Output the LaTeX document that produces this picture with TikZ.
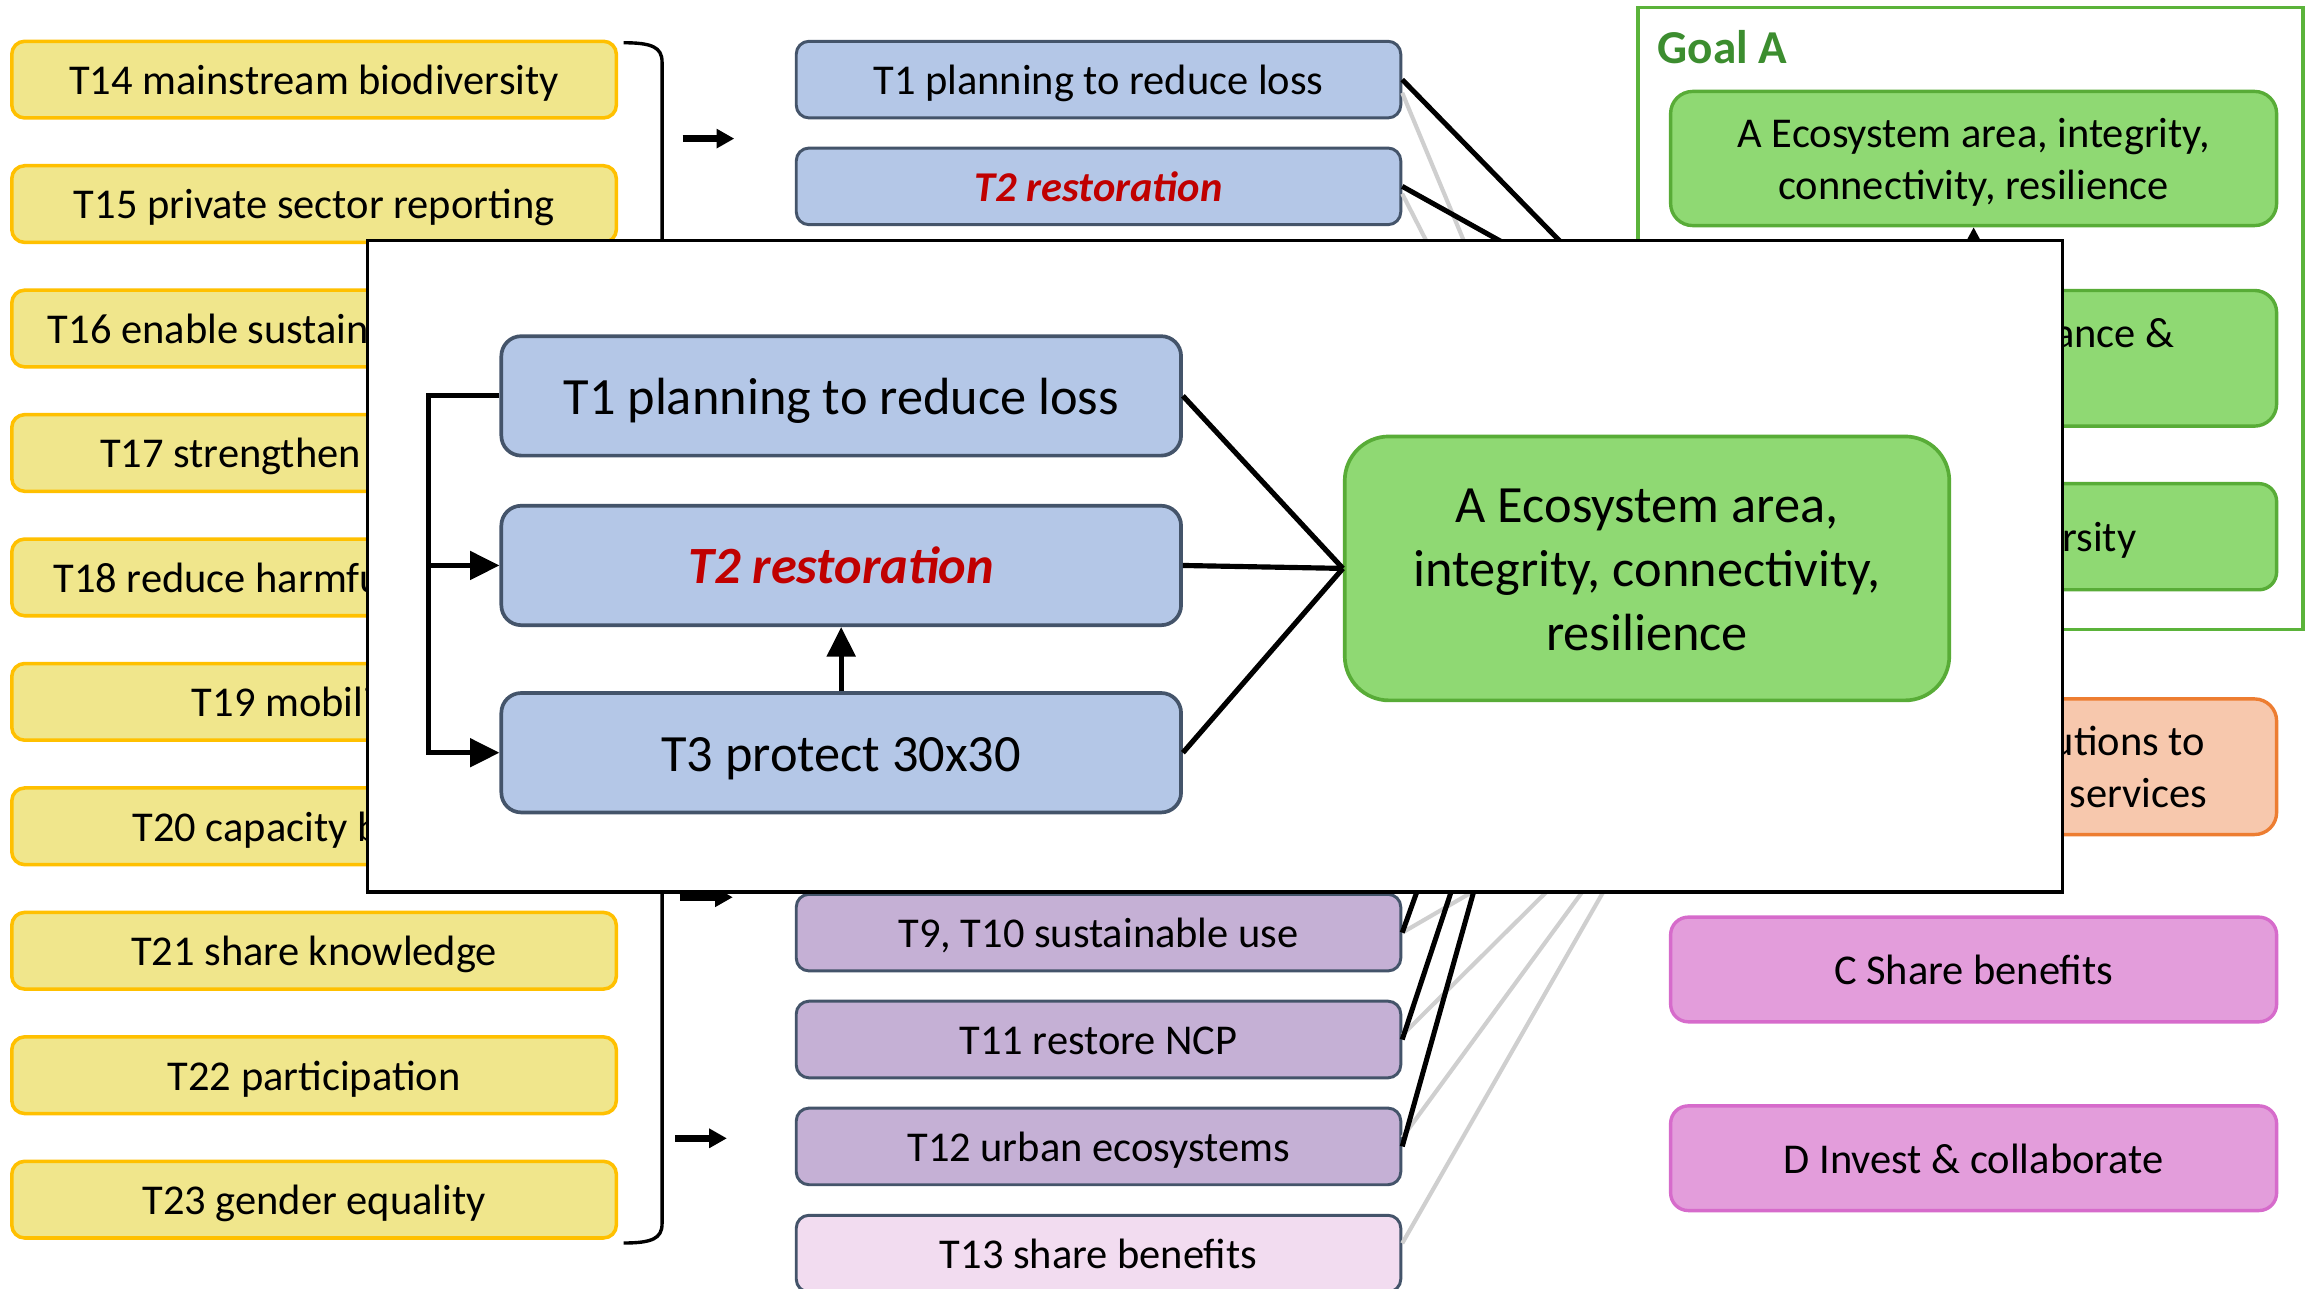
\documentclass[tikz,border=0pt]{standalone}
\usepackage{fontspec}
\setmainfont{Carlito}
\usetikzlibrary{arrows.meta,calc}
\definecolor{yfill}{HTML}{F0E68C}
\definecolor{yline}{HTML}{FFC000}
\definecolor{bfill}{HTML}{B4C7E7}
\definecolor{bline}{HTML}{44546A}
\definecolor{pfill}{HTML}{C5B0D5}
\definecolor{lpfill}{HTML}{F2DCF0}
\definecolor{gfill}{HTML}{8FD973}
\definecolor{gline}{HTML}{58AC37}
\definecolor{gframe}{HTML}{5BB33A}
\definecolor{gtext}{HTML}{3C8D2F}
\definecolor{ofill}{HTML}{F7C8AD}
\definecolor{oline}{HTML}{ED7D31}
\definecolor{mfill}{HTML}{E39DDB}
\definecolor{mline}{HTML}{D66BCB}
\definecolor{tred}{HTML}{C00000}
\definecolor{lgrey}{HTML}{CFCFCF}
\begin{document}
\begin{tikzpicture}[x=1pt,y=-1pt,
  smalltext/.style={font=\fontsize{28.8pt}{35.1pt}\selectfont, text height=27.4pt, text depth=7.2pt, inner sep=0pt},
  bigtext/.style={font=\fontsize{35.5pt}{43.3pt}\selectfont, text height=33.7pt, text depth=8.9pt, inner sep=0pt},
  tbox/.style={rectangle, inner sep=0pt, minimum width=410pt, minimum height=52pt, rounded corners=8.7pt, smalltext},
  yellowbox/.style={tbox, fill=yfill, draw=yline, line width=2.4pt},
  bluebox/.style={tbox, fill=bfill, draw=bline, line width=2pt},
  purplebox/.style={tbox, fill=pfill, draw=bline, line width=2pt},
  lpinkbox/.style={tbox, fill=lpfill, draw=bline, line width=2pt},
  goalbox/.style={tbox, minimum width=411pt, fill=gfill, draw=gline, line width=2.3pt},
  orangebox/.style={tbox, minimum width=411pt, fill=ofill, draw=oline, line width=2.3pt},
  magbox/.style={tbox, minimum width=411pt, fill=mfill, draw=mline, line width=2.3pt},
  bigblue/.style={rectangle, inner sep=0pt, minimum width=461pt, minimum height=81pt, rounded corners=13.5pt, fill=bfill, draw=bline, line width=2.5pt, bigtext},
  blackline/.style={line width=3.4pt, black},
  greyline/.style={line width=2.8pt, lgrey},
  fatarrow/.style={line width=4.5pt, -{Triangle[length=12pt,width=12.5pt]}},
  inline/.style={line width=3.5pt, black},
  inarrow/.style={inline, -{Triangle[length=20pt,width=19pt]}}
]
\useasboundingbox (0,0) rectangle (1568,874);
\path[fill=white] (0,0) rectangle (1568,874);

% ---------- left column ----------
\node[yellowbox] (t14) at (213,54) {T14 mainstream biodiversity};
\node[yellowbox] (t15) at (213,138.4) {T15 private sector reporting};
\node[yellowbox] (t16) at (213,222.8) {T16 enable sustainable choices};
\node[yellowbox] (t17) at (213,307.2) {T17 strengthen biosafety};
\node[yellowbox] (t18) at (213,391.6) {T18 reduce harmful incentives};
\node[yellowbox] (t19) at (213,476) {};
\node[smalltext, anchor=west] (t19t) at (130,476) {T19 mobilize};
\node[yellowbox] (t20) at (213,560.4) {T20 capacity building};
\node[yellowbox] (t21) at (213,644.8) {T21 share knowledge};
\node[yellowbox] (t22) at (213,729.2) {T22 participation};
\node[yellowbox] (t23) at (213,813.6) {T23 gender equality};

% bracket
\coordinate (brTop) at (423,29);
\coordinate (brBot) at (423,843);
\draw[line width=2.3pt] (brTop) .. controls (442,29) and (449,32) .. (449,42) -- (449,830) .. controls (449,840) and (442,843) .. (brBot);

% small arrows
\coordinate (a1s) at (463,94);   \coordinate (a1e) at (498,94);
\coordinate (a2s) at (461,608.5); \coordinate (a2e) at (497,608.5);
\coordinate (a3s) at (458,772);  \coordinate (a3e) at (493,772);
\draw[fatarrow] (a1s) -- (a1e);
\draw[fatarrow] (a2s) -- (a2e);
\draw[fatarrow] (a3s) -- (a3e);

% ---------- middle column ----------
\node[bluebox] (t1) at (745,54) {T1 planning to reduce loss};
\node[bluebox, text=tred] (t2) at (745,126.4) {\bfseries\itshape T2 restoration};
\node[purplebox] (t9) at (745,632.5) {T9, T10 sustainable use};
\node[purplebox] (t11) at (745,705) {T11 restore NCP};
\node[purplebox] (t12) at (745,777.5) {T12 urban ecosystems};
\node[lpinkbox] (t13) at (745,850.2) {T13 share benefits};

% hidden ends of connectors (under the inset)
\coordinate (h1) at (1113,220);
\coordinate (h2) at (1083,200);
\coordinate (h3) at (1008,200);
\coordinate (h4) at (986,200);
\coordinate (h9b) at (977,560);
\coordinate (h11b) at (999,560);
\coordinate (h12b) at (1012,560);
\coordinate (h9g) at (1076,560);
\coordinate (h11g) at (1094,560);
\coordinate (h12g) at (1106,560);
\coordinate (h13g) at (1113,560);

\draw[greyline] ([yshift=-9pt]t1.east) -- (h3);
\draw[greyline] ([yshift=-5pt]t2.east) -- (h4);
\draw[blackline] (t1.east) -- (h1);
\draw[blackline] (t2.east) -- (h2);

\draw[greyline] (t9.east) -- (h9g);
\draw[greyline] ([yshift=3pt]t11.east) -- (h11g);
\draw[greyline] ([yshift=6pt]t12.east) -- (h12g);
\draw[greyline] ([yshift=7pt]t13.east) -- (h13g);
\draw[blackline] (t9.east) -- (h9b);
\draw[blackline] (t11.east) -- (h11b);
\draw[blackline] (t12.east) -- (h12b);

% ---------- right column ----------
\node[draw=gframe, line width=2.3pt, minimum width=451pt, minimum height=422pt, inner sep=0pt] (goalA) at (1336.5,216) {};
\node[anchor=base west, inner sep=0pt, font=\fontsize{32pt}{38pt}\selectfont\bfseries, text=gtext] (goalAlabel) at (1124,43) {Goal A};

\node[goalbox, minimum height=91pt, rounded corners=15pt] (ga) at (1338.5,107.5) {};
\node[smalltext, anchor=base] (ga1) at (1338.5,100) {A Ecosystem area, integrity,};
\node[smalltext, anchor=base] (ga2) at (1338.5,135.2) {connectivity, resilience};

\node[goalbox, minimum height=92pt, rounded corners=15pt] (gb) at (1338.5,243) {};
\node[smalltext, anchor=base east] (gbt) at (1475,235.5) {A Species abundance \&};

\node[goalbox, minimum height=72pt, rounded corners=12pt] (gc) at (1338.5,364) {};
\node[smalltext, anchor=base east] (gct) at (1449,374) {A Genetic diversity};

\node[orangebox, minimum height=92pt, rounded corners=15pt] (gd) at (1338.5,520) {};
\node[smalltext, anchor=base east] (gd1) at (1495.5,512.5) {B Nature's contributions to};
\node[smalltext, anchor=base east] (gd2) at (1497,547.6) {people, ecosystem services};

\node[magbox, minimum height=71pt, rounded corners=12pt] (gC) at (1338.5,657.5) {C Share benefits};
\node[magbox, minimum height=71pt, rounded corners=12pt] (gD) at (1338.5,785.5) {D Invest \& collaborate};

\coordinate (gaIn) at (1338.5,260);
\draw[line width=2.2pt, -{Triangle[length=10pt,width=10pt]}] (gaIn) -- (ga.south);

% ---------- inset ----------
\node[draw=black, fill=white, line width=2.2pt, minimum width=1150pt, minimum height=442pt, inner sep=0pt] (inset) at (824,384) {};

\node[bigblue] (T1o) at (570.5,268.5) {T1 planning to reduce loss};
\node[bigblue, text=tred] (T2o) at (570.5,383.5) {\bfseries\itshape T2 restoration};
\node[bigblue] (T3o) at (570.5,510.5) {T3 protect 30x30};

\node[rectangle, minimum width=410pt, minimum height=179pt, rounded corners=30pt, fill=gfill, draw=gline, line width=2.5pt, inner sep=0pt] (gbig) at (1117,385.5) {};
\node[bigtext, anchor=base] (gbig1) at (1117,354.6) {A Ecosystem area,};
\node[bigtext, anchor=base] (gbig2) at (1117,397.9) {integrity, connectivity,};
\node[bigtext, anchor=base] (gbig3) at (1117,441.2) {resilience};

\draw[inline] (T1o.east) -- (gbig.west);
\draw[inline] (T2o.east) -- (gbig.west);
\draw[inline] (T3o.east) -- (gbig.west);

\coordinate (busMid) at ($(T2o.west)+(-48,0)$);
\draw[inarrow] (T1o.west) -- ++(-48,0) |- (T3o.west);
\draw[inarrow] (busMid) -- (T2o.west);
\draw[inarrow] (T3o.north) -- (T2o.south);
\end{tikzpicture}
\end{document}
